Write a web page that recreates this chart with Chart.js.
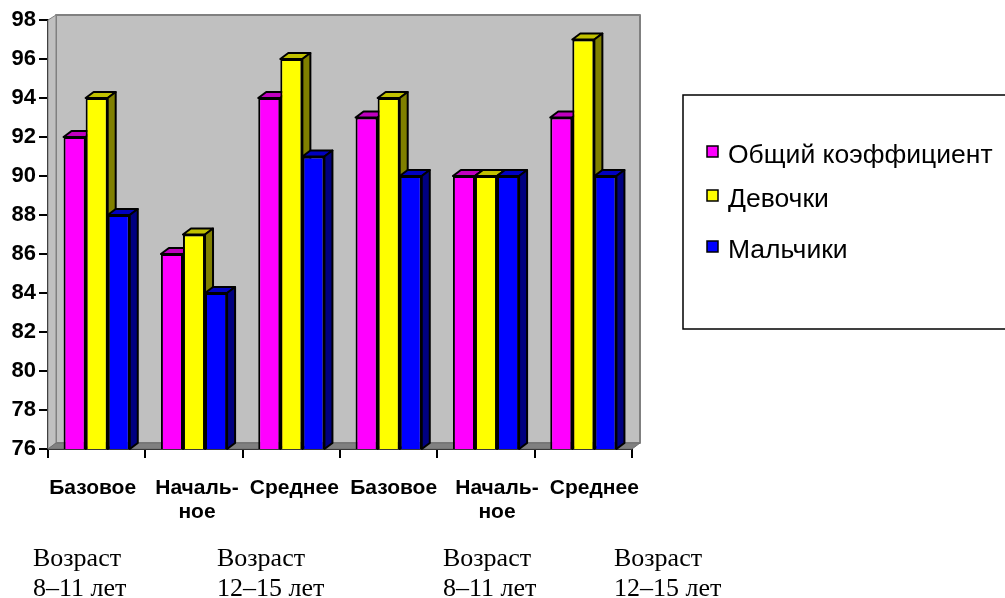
<!DOCTYPE html>
<html>
<head>
<meta charset="utf-8">
<style>
  html, body { margin: 0; background: #fff; }
  canvas { display: block; }
</style>
<script src="https://cdn.jsdelivr.net/npm/chart.js@4/dist/chart.umd.min.js"></script>
</head>
<body>
<canvas id="myChart" width="1005" height="598"></canvas>
<script>
const categories = ['Базовое', ['Началь-', 'ное'], 'Среднее', 'Базовое', ['Началь-', 'ное'], 'Среднее'];
const seriesNames = ['Общий коэффициент', 'Девочки', 'Мальчики'];
const overall = [92, 86, 94, 93, 90, 93];
const girls = [94, 87, 96, 94, 90, 97];
const boys = [88, 84, 91, 90, 90, 90];
const ageLabels = [['Возраст', '8–11 лет'], ['Возраст', '12–15 лет'], ['Возраст', '8–11 лет'], ['Возраст', '12–15 лет']];

// drawing settings, not data
const front = ['#ff00ff', '#ffff00', '#0000ff'];
const top3d = ['#c000c0', '#c0c000', '#0000c0'];
const side3d = ['#800080', '#808000', '#000080'];
const depthX = 8, depthY = 6, wallRise = 5;
const ageX = [33, 217, 443, 614];
const labelShift = [-4, 3, 3, 5, 11, 11];
const legendRows = [163, 207, 258];

function poly(ctx, pts, fill, stroke, lw) {
  ctx.beginPath();
  pts.forEach((p, i) => i ? ctx.lineTo(p[0], p[1]) : ctx.moveTo(p[0], p[1]));
  ctx.closePath();
  ctx.fillStyle = fill;
  ctx.fill();
  if (stroke) {
    ctx.strokeStyle = stroke;
    ctx.lineWidth = lw;
    ctx.lineJoin = 'round';
    ctx.stroke();
  }
}

const box3d = {
  id: 'box3d',
  beforeDraw(chart) {
    // labels sit a little off the category centres in the original
    const x = chart.scales.x;
    const items = x._computeLabelItems(chart.chartArea);
    items.forEach((it, i) => { it.options.translation[0] += labelShift[i]; });
    x._labelItems = items;
  },
  beforeDatasetsDraw(chart) {
    const { ctx, chartArea: a } = chart;
    ctx.save();
    poly(ctx, [[a.left + depthX, a.top - wallRise], [a.right + depthX, a.top - wallRise], [a.right + depthX, a.bottom - depthY], [a.left + depthX, a.bottom - depthY]], '#c0c0c0', '#808080', 2);
    poly(ctx, [[a.left, a.top], [a.left + depthX, a.top - wallRise], [a.left + depthX, a.bottom - depthY], [a.left, a.bottom]], '#c0c0c0', '#808080', 1);
    poly(ctx, [[a.left, a.bottom], [a.left + depthX, a.bottom - depthY], [a.right + depthX, a.bottom - depthY], [a.right, a.bottom]], '#808080', '#6e6e6e', 1);
    // tops and sides of the bars, left to right, the library then paints the fronts over them
    categories.forEach((_, k) => {
      seriesNames.forEach((_, c) => {
        const bar = chart.getDatasetMeta(c).data[k];
        const l = bar.x - bar.width / 2, r = bar.x + bar.width / 2, t = bar.y, b = a.bottom;
        poly(ctx, [[l, t], [l + depthX, t - depthY], [r + depthX, t - depthY], [r, t]], top3d[c], '#000', 2);
        poly(ctx, [[r, t], [r + depthX, t - depthY], [r + depthX, b - depthY], [r, b]], side3d[c], '#000', 2);
      });
    });
    ctx.restore();
  },
  afterDraw(chart) {
    const { ctx } = chart;
    ctx.save();
    // legend box runs off the right edge
    ctx.strokeStyle = '#000';
    ctx.lineWidth = 1.5;
    ctx.strokeRect(683, 95, 340, 234);
    ctx.textBaseline = 'alphabetic';
    ctx.textAlign = 'left';
    seriesNames.forEach((name, i) => {
      const y = legendRows[i];
      ctx.fillStyle = front[i];
      ctx.fillRect(707, y - 17, 11, 11);
      ctx.strokeRect(707, y - 17, 11, 11);
      ctx.fillStyle = '#000';
      ctx.font = '26.5px "Liberation Sans"';
      ctx.fillText(name, 728, y);
    });
    // age notes under the axis
    ctx.font = '26px "Liberation Serif"';
    ageLabels.forEach((lines, i) => {
      ctx.fillText(lines[0], ageX[i], 566);
      ctx.fillText(lines[1], ageX[i], 596);
    });
    ctx.restore();
  }
};

new Chart(document.getElementById('myChart'), {
  type: 'bar',
  data: {
    labels: categories,
    datasets: [overall, girls, boys].map((values, i) => ({
      label: seriesNames[i],
      data: values,
      backgroundColor: front[i],
      borderColor: '#000',
      borderWidth: 2
    }))
  },
  options: {
    responsive: false,
    animation: false,
    layout: { padding: { left: 0, top: 20, right: 373, bottom: 0 } },
    plugins: { legend: { display: false }, tooltip: { enabled: false } },
    datasets: { bar: { barPercentage: 1, categoryPercentage: 0.68 } },
    scales: {
      x: {
        afterFit(scale) { scale.height = 149; },
        grid: { drawOnChartArea: false, color: '#000', lineWidth: 2, tickLength: 9, tickColor: '#000' },
        border: { color: '#000', width: 2 },
        ticks: {
          maxRotation: 0,
          autoSkip: false,
          padding: 18,
          color: '#000',
          font: { family: '"Liberation Sans"', weight: 'bold', size: 21, lineHeight: 1.15 }
        }
      },
      y: {
        min: 76,
        max: 98,
        afterFit(scale) { scale.width = 48; },
        grid: { drawOnChartArea: false, color: '#000', lineWidth: 2, tickLength: 9, tickColor: '#000' },
        border: { color: '#000', width: 2 },
        ticks: {
          stepSize: 2,
          padding: 3,
          color: '#000',
          font: { family: '"Liberation Sans"', weight: 'bold', size: 22 }
        }
      }
    }
  },
  plugins: [box3d]
});
</script>
</body>
</html>
